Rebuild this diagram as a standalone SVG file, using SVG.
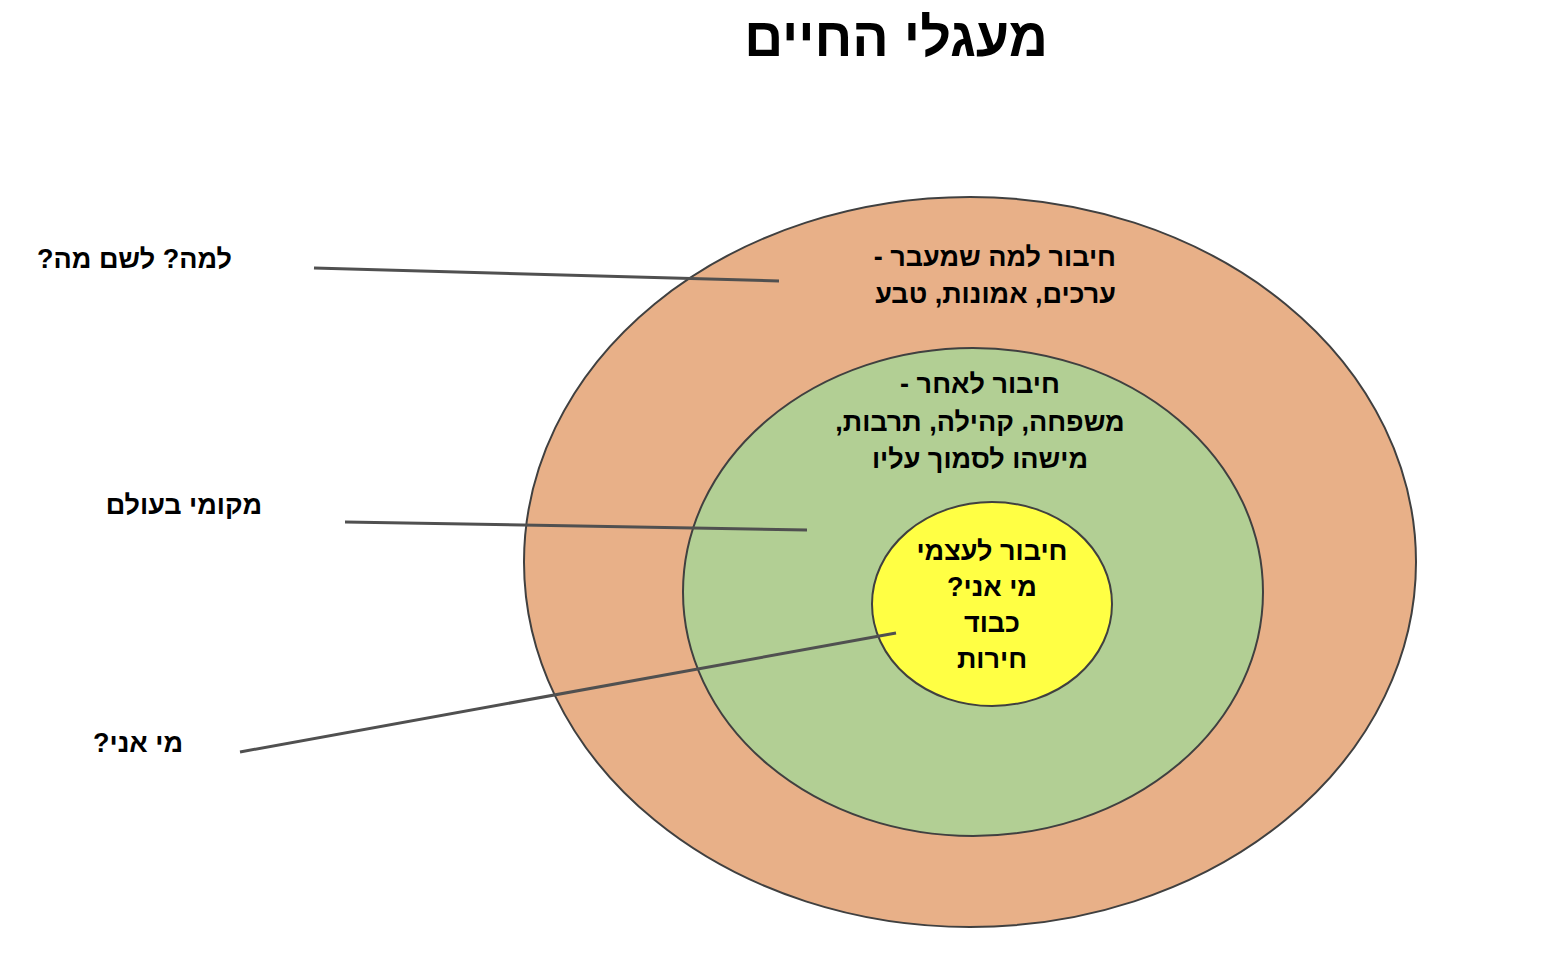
<svg xmlns="http://www.w3.org/2000/svg" width="1561" height="953" viewBox="0 0 1561 953">
<style>
text{font-family:"Liberation Sans","DejaVu Sans",sans-serif;font-weight:bold;fill:#000;direction:rtl}
.e{stroke:#404040;stroke-width:2}
.l{stroke:#505050;stroke-width:3;fill:none}
.t{font-size:27px}
</style>
<rect width="1561" height="953" fill="#fff"/>
<text x="896" y="56" font-size="54" text-anchor="middle">מעגלי החיים</text>
<g id="outer"><ellipse class="e" cx="970" cy="562" rx="446" ry="365" fill="#e8b088"/>
<text class="t" x="1116" y="266" text-anchor="start">חיבור למה שמעבר -</text>
<text class="t" x="1116" y="303" text-anchor="start">ערכים, אמונות, טבע</text></g>
<g id="middle"><ellipse class="e" cx="973" cy="592" rx="290" ry="244" fill="#b2cf94"/>
<text class="t" x="980" y="393" text-anchor="middle">חיבור לאחר -</text>
<text class="t" x="980" y="431" text-anchor="middle">משפחה, קהילה, תרבות,</text>
<text class="t" x="980" y="468" text-anchor="middle">מישהו לסמוך עליו</text></g>
<g id="inner"><ellipse class="e" cx="992" cy="604" rx="120" ry="102" fill="#ffff44"/>
<text class="t" x="992" y="560" text-anchor="middle">חיבור לעצמי</text>
<text class="t" x="992" y="596" text-anchor="middle">מי אני?</text>
<text class="t" x="992" y="632" text-anchor="middle">כבוד</text>
<text class="t" x="992" y="668" text-anchor="middle">חירות</text></g>
<g id="label1"><text class="t" x="232" y="268" text-anchor="start">למה? לשם מה?</text></g>
<g id="label2"><text class="t" x="262" y="514" text-anchor="start">מקומי בעולם</text></g>
<g id="label3"><text class="t" x="183" y="752" text-anchor="start">מי אני?</text></g>
<g id="connectors">
<line class="l" x1="314" y1="268" x2="779" y2="281"/>
<line class="l" x1="345" y1="522" x2="807" y2="530"/>
<line class="l" x1="240" y1="752" x2="896" y2="633"/>
</g>
</svg>
